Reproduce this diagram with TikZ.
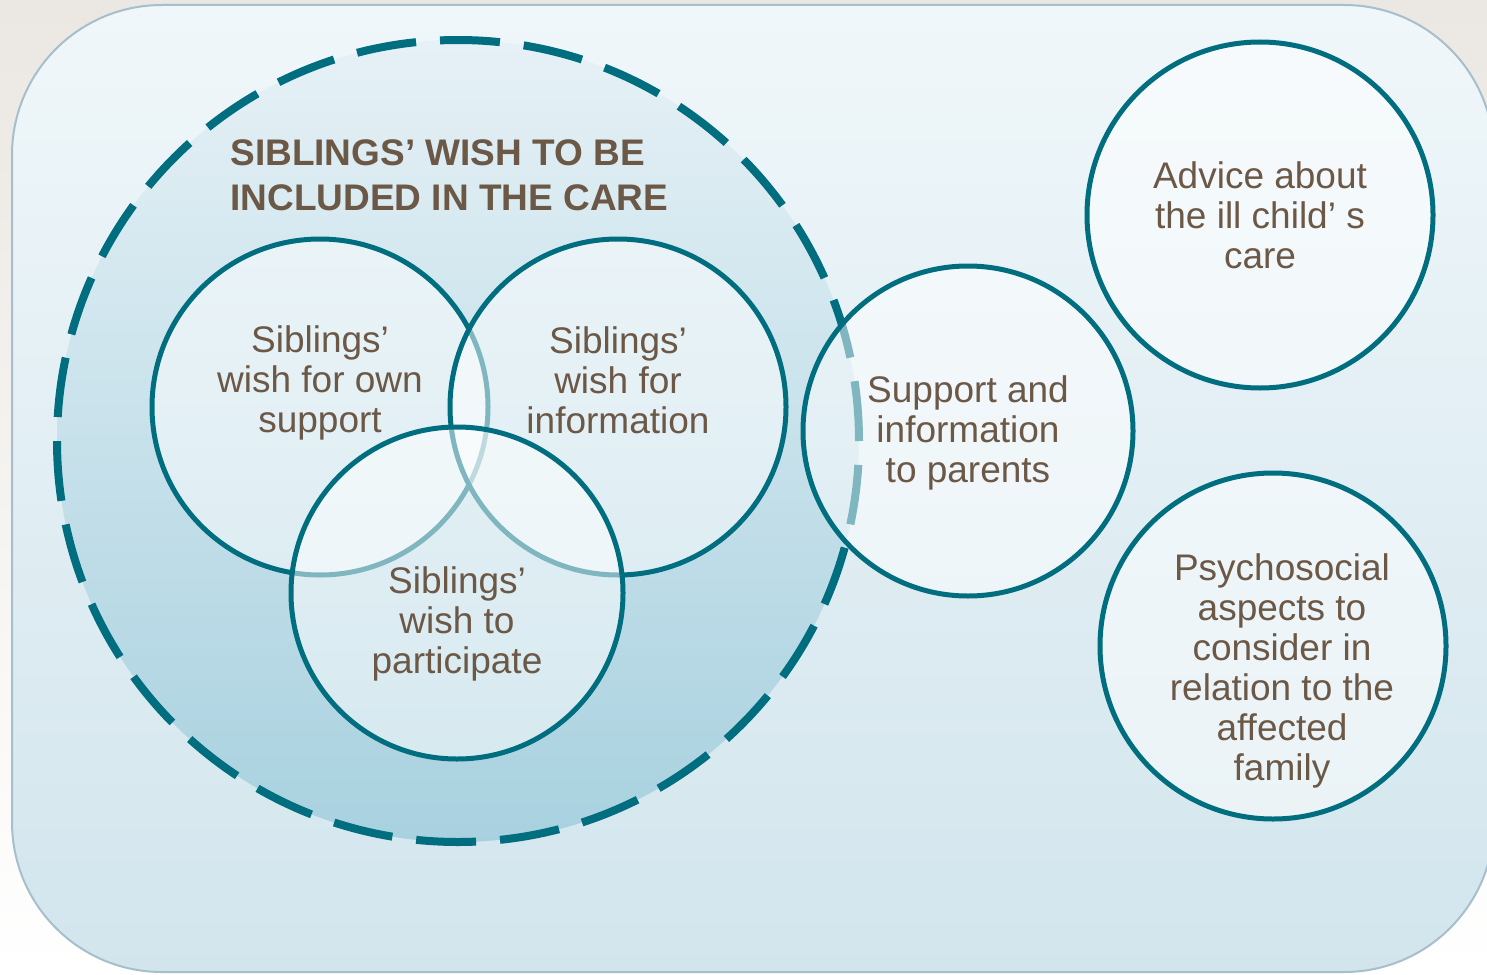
\documentclass[tikz,border=0pt]{standalone}
\usepackage{fontspec}
\setmainfont{Liberation Sans}
\usetikzlibrary{positioning}
\definecolor{teal1}{HTML}{006E7F}
\definecolor{brownT}{HTML}{6B5846}
\definecolor{frame}{HTML}{A7BFCB}
\definecolor{pageTop}{HTML}{EBE7E2}
\definecolor{outTop}{HTML}{F0F7FA}
\definecolor{outBot}{HTML}{D2E5ED}
\definecolor{inclTop}{HTML}{E6F1F6}
\definecolor{inclBot}{HTML}{A8D1DF}
\tikzstyle{circ}=[circle, draw=teal1, line width=2.5pt, fill=white, fill opacity=0.5, inner sep=0pt, anchor=center]
\tikzstyle{lbl}=[align=center, text=brownT, font=\fontsize{18.5}{20}\selectfont, inner sep=0pt]

\begin{document}
\begin{tikzpicture}[x=0.5pt, y=-0.5pt]
	\useasboundingbox (0,0) rectangle (1487,974);
	\fill[top color=pageTop, bottom color=white] (0,0) rectangle (1487,974);
	\draw[frame, line width=1pt, top color=outTop, bottom color=outBot, rounded corners=75pt] (12,5) rectangle (1494,972);

	% the large dashed circle
	\node[circle, minimum size=401pt, inner sep=0pt, top color=inclTop, bottom color=inclBot, draw=teal1, line width=4pt, dash pattern=on 30pt off 12pt](incl) at (458,441){};
	\node[align=left, anchor=west, text=brownT, font=\bfseries\fontsize{18.5}{22.5}\selectfont, inner sep=0pt](title) at (230,175){SIBLINGS’ WISH TO BE\\INCLUDED IN THE CARE};

	\node[circ, minimum size=168pt](own) at (320,407){};
	\node[circ, minimum size=168pt](info) at (618,407){};
	\node[circ, minimum size=166pt](part) at (457,593){};
	\node[circ, minimum size=165pt](parents) at (968,431){};
	\node[circ, minimum size=173pt](advice) at (1260,215){};
	\node[circ, minimum size=173pt](psycho) at (1273,646){};

	\node[lbl, yshift=12pt] (ownT) at (own.center) {Siblings’\\wish for own\\support};
	\node[lbl, yshift=13.5pt] (infoT) at (info.center) {Siblings’\\wish for\\information};
	\node[lbl, yshift=-15.5pt] (partT) at (part.center) {Siblings’\\wish to\\participate};
	\node[lbl, yshift=-1pt] (parentsT) at (parents.center) {Support and\\information\\to parents};
	\node[lbl] (adviceT) at (advice.center) {Advice about\\the ill child’ s\\care};
	\node[lbl, xshift=4.5pt, yshift=-12.5pt] (psychoT) at (psycho.center) {Psychosocial\\aspects to\\consider in\\relation to the\\affected\\family};

\end{tikzpicture}
\end{document}
